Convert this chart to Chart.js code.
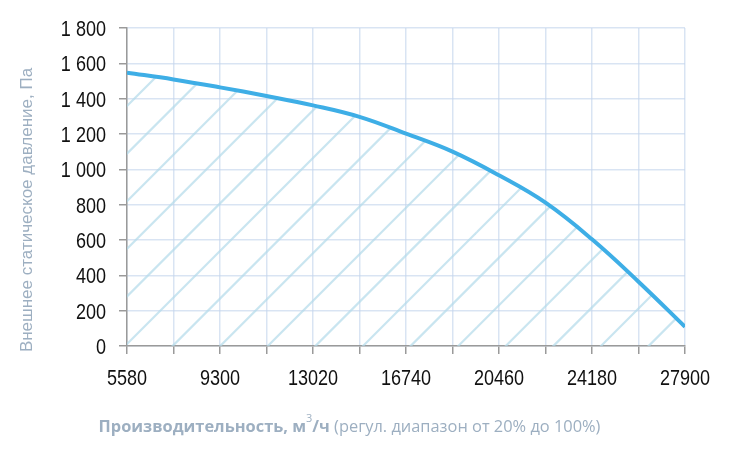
<!DOCTYPE html>
<html>
<head>
<meta charset="utf-8">
<script src="https://cdn.jsdelivr.net/npm/chart.js@4.4.1/dist/chart.umd.min.js"></script>
<style>
  html, body { margin: 0; padding: 0; background: #fff; }
  #wrap { position: relative; width: 730px; height: 456px; }
</style>
</head>
<body>
<div id="wrap"><canvas id="fan"></canvas></div>
<script>
// airflow, m3/h
const flow = [5580, 7440, 9300, 11160, 13020, 14880, 16740, 18600, 20460, 22320, 24180, 26040, 27900]
// external static pressure, Pa
const pressure = [1547, 1509, 1464, 1415, 1362, 1297, 1202, 1100, 966, 811, 604, 364, 109]
const xLabels = ['5580', '9300', '13020', '16740', '20460', '24180', '27900']
const yLabels = ['0', '200', '400', '600', '800', '1 000', '1 200', '1 400', '1 600', '1 800']

const yTitle = 'Внешнее статическое давление, Па'
const xTitleBold = 'Производительность, м'
const xTitleSup = '3'
const xTitleBold2 = '/ч'
const xTitleRest = ' (регул. диапазон от 20% до 100%)'

const titleColor = '#9dafc1'
const gridColor = 'rgba(196, 214, 236, 0.65)'
const axisColor = '#9a9a9a'

// diagonal hatch for the area under the curve
function makeHatch() {
    const size = 476
    const step = 47.6
    const c = document.createElement('canvas')
    c.width = size
    c.height = size
    const g = c.getContext('2d')
    g.strokeStyle = 'rgba(178, 218, 234, 0.7)'
    g.lineWidth = 2.2
    for (let k = -2; k < 22; k++) {
        const s = 42.6 + k * step
        g.beginPath()
        g.moveTo(s + 10, -10)
        g.lineTo(-10, s + 10)
        g.stroke()
    }
    return g.createPattern(c, 'repeat')
}

// tick labels are drawn here so they can be squeezed like a narrow font
const labelsPlugin = {
    id: 'labels',
    afterDraw(chart) {
        const ctx = chart.ctx
        const xs = chart.scales.x
        const ys = chart.scales.y
        ctx.save()
        ctx.fillStyle = '#111'
        ctx.font = "22px 'Liberation Sans', Arial, sans-serif"
        ctx.textBaseline = 'alphabetic'
        ctx.textAlign = 'center'
        xLabels.forEach(l => {
            const px = xs.getPixelForValue(Number(l))
            ctx.save()
            ctx.translate(px, 385)
            ctx.scale(0.82, 1)
            ctx.fillText(l, 0, 0)
            ctx.restore()
        })
        ctx.textAlign = 'right'
        yLabels.forEach(l => {
            const py = ys.getPixelForValue(Number(l.replace(' ', '')))
            ctx.save()
            ctx.translate(106, py + 8)
            ctx.scale(0.82, 1)
            ctx.fillText(l, 0, 0)
            ctx.restore()
        })
        ctx.restore()

        // y title
        ctx.save()
        ctx.fillStyle = titleColor
        ctx.font = "17px 'Liberation Sans', Arial, sans-serif"
        ctx.translate(32, 210)
        ctx.rotate(-Math.PI / 2)
        ctx.textAlign = 'center'
        ctx.fillText(yTitle, 0, 0)
        ctx.restore()

        // x title, mixed bold / regular with superscript
        ctx.save()
        ctx.fillStyle = titleColor
        ctx.textBaseline = 'alphabetic'
        const bold = "bold 16.4px 'Open Sans', sans-serif"
        const reg = "16.4px 'Open Sans', sans-serif"
        const sup = "11px 'Open Sans', sans-serif"
        ctx.font = bold
        const w1 = ctx.measureText(xTitleBold).width
        const w3 = ctx.measureText(xTitleBold2).width
        ctx.font = sup
        const w2 = ctx.measureText(xTitleSup).width
        ctx.font = reg
        const w4 = ctx.measureText(xTitleRest).width
        let x = 349.5 - (w1 + w2 + w3 + w4) / 2
        const base = 432
        ctx.font = bold
        ctx.fillText(xTitleBold, x, base)
        x += w1
        ctx.font = sup
        ctx.fillText(xTitleSup, x, base - 10)
        x += w2
        ctx.font = bold
        ctx.fillText(xTitleBold2, x, base)
        x += w3
        ctx.font = reg
        ctx.fillText(xTitleRest, x, base)
        ctx.restore()
    }
}

const ctx = document.getElementById('fan').getContext('2d')
const chart = new Chart(ctx, {
    type: 'line',
    data: {
        datasets: [{
            data: flow.map((f, i) => ({ x: f, y: pressure[i] })),
            borderColor: '#3eaee6',
            borderWidth: 4,
            backgroundColor: makeHatch(),
            fill: 'origin',
            pointRadius: 0,
            tension: 0.4
        }]
    },
    options: {
        responsive: true,
        maintainAspectRatio: false,
        animation: false,
        layout: { padding: { top: 28, right: 45, left: 0, bottom: 0 } },
        plugins: {
            legend: { display: false },
            tooltip: { enabled: false }
        },
        scales: {
            x: {
                type: 'linear',
                min: 5580,
                max: 27900,
                afterFit: scale => { scale.height = 110 },
                ticks: { stepSize: 1860, autoSkip: false, maxRotation: 0, display: false },
                grid: {
                    color: gridColor,
                    lineWidth: 1.5,
                    tickLength: 8,
                    tickColor: axisColor,
                    tickWidth: 1.5
                },
                border: { color: axisColor, width: 1.5 }
            },
            y: {
                min: 0,
                max: 1800,
                afterFit: scale => { scale.width = 127 },
                ticks: { stepSize: 200, display: false },
                grid: {
                    color: gridColor,
                    lineWidth: 1.5,
                    tickLength: 8,
                    tickColor: axisColor,
                    tickWidth: 1.5
                },
                border: { color: axisColor, width: 1.5 }
            }
        }
    },
    plugins: [labelsPlugin]
})
</script>
</body>
</html>
